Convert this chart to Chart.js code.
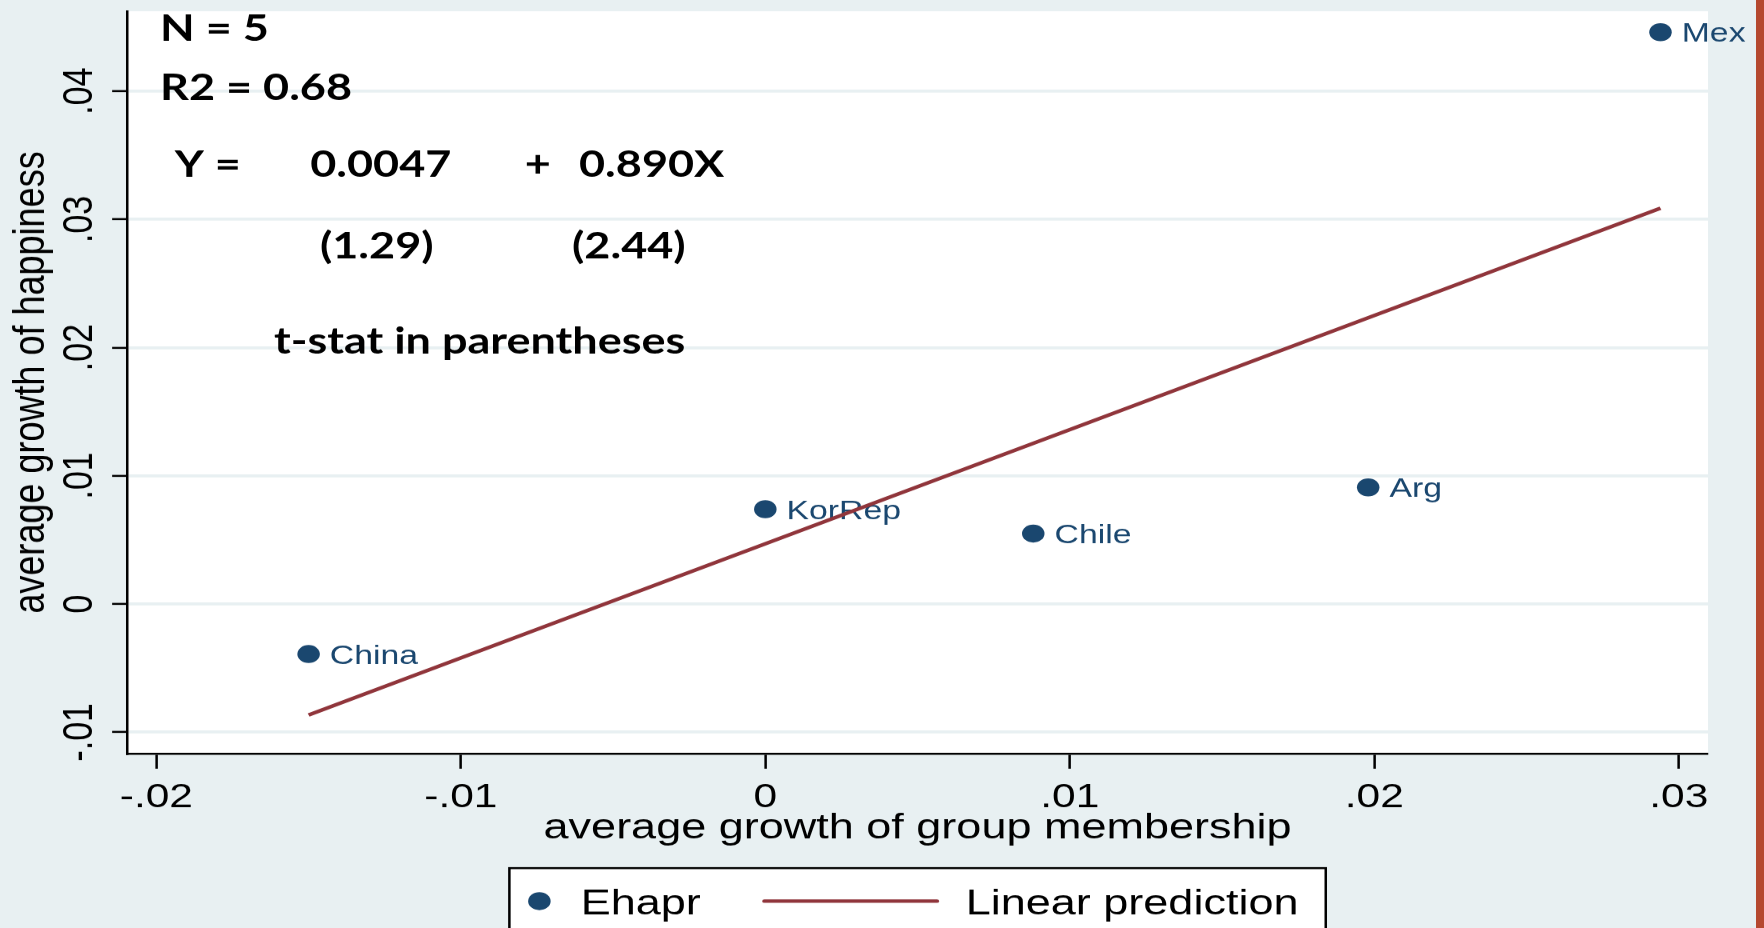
<!DOCTYPE html>
<html>
<head>
<meta charset="utf-8">
<title>Growth of happiness vs. growth of group membership</title>
<script src="https://cdn.jsdelivr.net/npm/chart.js@4/dist/chart.umd.min.js"></script>
<style>
  html, body { margin: 0; padding: 0; width: 1764px; height: 928px; overflow: hidden; background: #e8f0f2; }
  /* the graph is laid out on a 1411px-wide canvas and widened to the page width */
  #wrap { position: absolute; left: 0; top: 0; width: 1411px; height: 928px; transform: scaleX(1.250177); transform-origin: 0 0; }
  #edge { position: absolute; left: 1756px; top: 0; width: 8px; height: 928px; background: #b5482f; }
</style>
</head>
<body>
<div id="wrap"><canvas id="chart" width="1411" height="928"></canvas></div>
<div id="edge"></div>
<script>
// ---- data ----
const countries = ['China', 'KorRep', 'Chile', 'Arg', 'Mex'];
const groupGrowth = [-0.0150, 0.0000, 0.0088, 0.0198, 0.0294];
const happinessGrowth = [-0.0039, 0.0074, 0.0055, 0.0091, 0.0446];

// fitted regression: Y = 0.0047 + 0.890X
const fitIntercept = 0.0047;
const fitSlope = 0.890;

const xTickValues = [-0.02, -0.01, 0, 0.01, 0.02, 0.03];
const xTickLabels = ['-.02', '-.01', '0', '.01', '.02', '.03'];
const yTickValues = [-0.01, 0, 0.01, 0.02, 0.03, 0.04];
const yTickLabels = ['-.01', '0', '.01', '.02', '.03', '.04'];

const xRange = [-0.02096, 0.03096];
const yRange = [-0.01167, 0.04623];

// text placed inside the plot (anchor = left edge, vertical centre of capitals), in data units
const noteTexts = ['N = 5', 'R2 = 0.68', 'Y =', '0.0047', '+', '0.890X', '(1.29)', '(2.44)', 't-stat in parentheses'];
const noteX = [-0.01988, -0.01988, -0.01940, -0.01495, -0.00790, -0.00612, -0.01463, -0.00635, -0.01614];
const noteY = [0.04495, 0.04030, 0.03430, 0.03430, 0.03430, 0.03430, 0.02795, 0.02795, 0.02053];

const legendLabels = ['Ehapr', 'Linear prediction'];

// ---- styles ----
const PAGE_BG = '#e8f0f2';
const GRID = '#e8f0f2';
const NAVY = '#1a476f';
const MAROON = '#90353b';
const SANS = '"Liberation Sans", Arial, Helvetica, sans-serif';
const NOTE_FONT = '"Lato", "Open Sans", sans-serif';

const fitX = [Math.min(...groupGrowth), Math.max(...groupGrowth)];
const fitPoints = fitX.map(x => ({ x, y: fitIntercept + fitSlope * x }));
const scatterPoints = countries.map((c, i) => ({ x: groupGrowth[i], y: happinessGrowth[i] }));

// white plot region on the tinted graph region
const plotBackground = {
  id: 'plotBackground',
  beforeDraw(chart) {
    const { ctx, chartArea: a, width, height } = chart;
    ctx.save();
    ctx.fillStyle = PAGE_BG;
    ctx.fillRect(0, 0, width, height);
    ctx.fillStyle = '#ffffff';
    ctx.fillRect(a.left, a.top, a.right - a.left, a.bottom - a.top);
    ctx.restore();
  }
};

// country names to the right of each marker (drawn before the fit line)
const pointLabels = {
  id: 'pointLabels',
  afterDatasetDraw(chart, args) {
    if (args.index !== 0) return;
    const ctx = chart.ctx;
    const size = 27;
    ctx.save();
    ctx.font = size + 'px ' + SANS;
    ctx.fillStyle = NAVY;
    ctx.textAlign = 'left';
    ctx.textBaseline = 'alphabetic';
    args.meta.data.forEach((pt, i) => {
      ctx.fillText(countries[i], pt.x + 17, pt.y + size * 0.36);
    });
    ctx.restore();
  }
};

// regression summary written in the upper-left of the plot
const regressionNotes = {
  id: 'regressionNotes',
  afterDraw(chart) {
    const { ctx, scales } = chart;
    const size = 36;
    ctx.save();
    ctx.font = '700 ' + size + 'px ' + NOTE_FONT;
    ctx.fillStyle = '#000000';
    ctx.textAlign = 'left';
    ctx.textBaseline = 'alphabetic';
    noteTexts.forEach((t, i) => {
      const px = scales.x.getPixelForValue(noteX[i]);
      const py = scales.y.getPixelForValue(noteY[i]);
      ctx.fillText(t, px, py + size * 0.36);
    });
    ctx.restore();
  }
};

// framed key below the axis title
const framedLegend = {
  id: 'framedLegend',
  afterDraw(chart) {
    const { ctx, chartArea: a } = chart;
    const scatterSet = chart.data.datasets[0];
    const lineSet = chart.data.datasets[1];
    const w = 653;
    const left = (a.left + a.right) / 2 - w / 2;
    const top = 868;
    const cy = 901;
    const size = 36;
    ctx.save();
    ctx.fillStyle = '#ffffff';
    ctx.fillRect(left, top, w, 100);
    ctx.strokeStyle = '#000000';
    ctx.lineWidth = 2;
    ctx.strokeRect(left, top, w, 100);

    ctx.fillStyle = scatterSet.pointBackgroundColor;
    ctx.beginPath();
    ctx.arc(left + 24, cy, scatterSet.pointRadius, 0, Math.PI * 2);
    ctx.fill();

    ctx.strokeStyle = lineSet.borderColor;
    ctx.lineWidth = lineSet.borderWidth;
    ctx.lineCap = 'round';
    ctx.beginPath();
    ctx.moveTo(left + 204, cy);
    ctx.lineTo(left + 342, cy);
    ctx.stroke();

    ctx.fillStyle = '#000000';
    ctx.font = size + 'px ' + SANS;
    ctx.textAlign = 'left';
    ctx.textBaseline = 'alphabetic';
    ctx.fillText(legendLabels[0], left + 57, cy + size * 0.36);
    ctx.fillText(legendLabels[1], left + 365, cy + size * 0.36);
    ctx.restore();
  }
};

new Chart(document.getElementById('chart'), {
  type: 'scatter',
  data: {
    datasets: [
      {
        type: 'scatter',
        label: legendLabels[0],
        data: scatterPoints,
        pointRadius: 9,
        pointHoverRadius: 9,
        pointBackgroundColor: NAVY,
        pointBorderWidth: 0,
        showLine: false,
        order: 1
      },
      {
        type: 'line',
        label: legendLabels[1],
        data: fitPoints,
        borderColor: MAROON,
        borderWidth: 3.5,
        pointRadius: 0,
        fill: false,
        tension: 0,
        order: 0
      }
    ]
  },
  options: {
    responsive: false,
    animation: false,
    devicePixelRatio: 1764 / 1411,
    layout: { padding: { left: 0, right: 44.8, top: 11.25, bottom: 78.4 } },
    plugins: {
      legend: { display: false },
      tooltip: { enabled: false }
    },
    scales: {
      x: {
        type: 'linear',
        position: 'bottom',
        min: xRange[0],
        max: xRange[1],
        afterBuildTicks: s => { s.ticks = xTickValues.map(v => ({ value: v })); },
        afterFit: s => { s.height = 96; s.paddingLeft = 0; s.paddingRight = 0; },
        ticks: {
          autoSkip: false,
          maxRotation: 0,
          padding: 9,
          color: '#000000',
          font: { family: SANS, size: 34 },
          callback: (v, i) => xTickLabels[i]
        },
        grid: {
          drawOnChartArea: false,
          drawTicks: true,
          tickLength: 15,
          tickWidth: 2,
          tickColor: '#000000'
        },
        border: { display: true, color: '#000000', width: 2 },
        title: {
          display: true,
          text: 'average growth of group membership',
          color: '#000000',
          font: { family: SANS, size: 36 },
          padding: { top: 0, bottom: 0 }
        }
      },
      y: {
        type: 'linear',
        position: 'left',
        min: yRange[0],
        max: yRange[1],
        afterBuildTicks: s => { s.ticks = yTickValues.map(v => ({ value: v })); },
        afterFit: s => { s.width = 101.7; s.paddingTop = 0; s.paddingBottom = 0; },
        ticks: {
          minRotation: 90,
          maxRotation: 90,
          crossAlign: 'center',
          padding: -4,
          color: '#000000',
          font: { family: SANS, size: 34 },
          callback: (v, i) => yTickLabels[i]
        },
        grid: {
          color: GRID,
          lineWidth: 3,
          drawTicks: true,
          tickLength: 12,
          tickWidth: 2,
          tickColor: '#000000'
        },
        border: { display: true, color: '#000000', width: 2 },
        title: {
          display: true,
          text: 'average growth of happiness',
          color: '#000000',
          font: { family: SANS, size: 36 },
          padding: { top: 4, bottom: 0 }
        }
      }
    }
  },
  plugins: [plotBackground, pointLabels, regressionNotes, framedLegend]
});
</script>
</body>
</html>
